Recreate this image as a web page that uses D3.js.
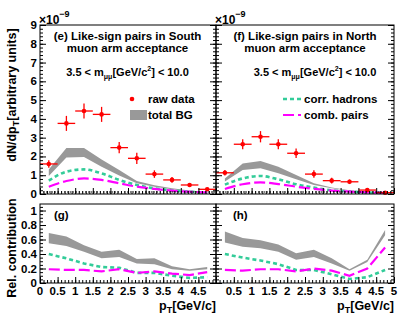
<!DOCTYPE html>
<html>
<head>
<meta charset="utf-8">
<script src="https://cdn.jsdelivr.net/npm/d3@7"></script>
<style>
  body { margin: 0; background: #fff; }
  text { font-family: "Liberation Sans", Arial, sans-serif; font-weight: bold; fill: #000; }
</style>
</head>
<body>
<div id="chart"></div>
<script>
// pT bin centres (GeV/c), bins are 0.5 wide
var ptBins = [0.25, 0.75, 1.25, 1.75, 2.25, 2.75, 3.25, 3.75, 4.25, 4.75];
var binWidth = 0.5;

// (e) South arm, dN/dpT in units of 1e-9
var southRaw    = [1.6, 3.76, 4.42, 4.24, 2.47, 1.9, 1.06, 0.75, 0.48, 0.25];
var southRawErr = [0.2, 0.4, 0.4, 0.4, 0.3, 0.3, 0.2, 0.15, 0.1, 0.08];
var southBgLow  = [0.96, 1.95, 1.97, 1.45, 0.98, 0.57, 0.39, 0.25, 0.14, 0.08];
var southBgHigh = [1.3, 2.45, 2.45, 1.84, 1.28, 0.69, 0.46, 0.3, 0.18, 0.1];
var southCorr   = [0.71, 1.19, 1.31, 1.1, 0.75, 0.48, 0.3, 0.19, 0.12, 0.07];
var southComb   = [0.39, 0.69, 0.83, 0.75, 0.57, 0.39, 0.27, 0.18, 0.12, 0.08];

// (f) North arm
var northRaw    = [1.13, 2.65, 3.05, 2.65, 2.17, 1.06, 0.71, 0.65, 0.21, 0.07];
var northRawErr = [0.15, 0.27, 0.3, 0.27, 0.25, 0.2, 0.15, 0.12, 0.1, 0.05];
var northBgLow  = [0.66, 1.28, 1.37, 1.1, 0.78, 0.48, 0.3, 0.17, 0.1, 0.06];
var northBgHigh = [0.83, 1.63, 1.76, 1.45, 1.01, 0.57, 0.35, 0.2, 0.12, 0.08];
var northCorr   = [0.5, 0.83, 0.96, 0.78, 0.52, 0.34, 0.2, 0.13, 0.08, 0.05];
var northComb   = [0.27, 0.52, 0.62, 0.53, 0.39, 0.27, 0.18, 0.13, 0.09, 0.06];

// (g) relative contributions, South
var relSouthBgLow  = [0.55, 0.51, 0.43, 0.34, 0.36, 0.27, 0.26, 0.19, 0.17, 0.19];
var relSouthBgHigh = [0.69, 0.64, 0.52, 0.43, 0.46, 0.33, 0.34, 0.23, 0.19, 0.22];
var relSouthCorr   = [0.40, 0.34, 0.27, 0.22, 0.21, 0.14, 0.14, 0.10, 0.07, 0.08];
var relSouthComb   = [0.19, 0.18, 0.18, 0.16, 0.19, 0.14, 0.16, 0.13, 0.11, 0.15];

// (h) relative contributions, North
var relNorthBgLow  = [0.56, 0.5, 0.48, 0.43, 0.32, 0.36, 0.27, 0.17, 0.29, 0.66];
var relNorthBgHigh = [0.71, 0.62, 0.59, 0.53, 0.41, 0.46, 0.34, 0.19, 0.32, 0.73];
var relNorthCorr   = [0.40, 0.35, 0.31, 0.26, 0.18, 0.18, 0.12, 0.055, 0.08, 0.18];
var relNorthComb   = [0.18, 0.17, 0.19, 0.19, 0.16, 0.2, 0.17, 0.1, 0.2, 0.49];

var topTicks = [0, 1, 2, 3, 4, 5, 6, 7, 8, 9];
var relTicks = [0, 0.2, 0.4, 0.6, 0.8, 1];
var ptTicksLeft  = [0, 0.5, 1, 1.5, 2, 2.5, 3, 3.5, 4, 4.5];
var ptTicksRight = [0.5, 1, 1.5, 2, 2.5, 3, 3.5, 4, 4.5, 5];

var svg = d3.select("#chart")
  .append("svg")
    .attr("width", 399)
    .attr("height", 318);

var gray = "#999999", teal = "#33cc99", magenta = "#ff00ff", red = "#ff0000";

function drawPanel(p) {
  var x = d3.scaleLinear().domain([0, 5]).range(p.xr);
  var y = d3.scaleLinear().domain(p.yd).range(p.yr);
  var g = svg.append("g");
  var idx = d3.range(ptBins.length);

  // background band
  g.append("path")
    .datum(idx)
    .attr("d", d3.area()
      .x(function(i) { return x(ptBins[i]); })
      .y0(function(i) { return y(p.bgLow[i]); })
      .y1(function(i) { return y(p.bgHigh[i]); }))
    .style("fill", gray);

  var curve = p.smooth ? d3.curveMonotoneX : d3.curveLinear;
  g.append("path")
    .datum(idx)
    .attr("d", d3.line().curve(curve)
      .x(function(i) { return x(ptBins[i]); })
      .y(function(i) { return y(p.corr[i]); }))
    .style("fill", "none").style("stroke", teal)
    .style("stroke-width", 2.6).style("stroke-dasharray", "4,3");
  g.append("path")
    .datum(idx)
    .attr("d", d3.line().curve(curve)
      .x(function(i) { return x(ptBins[i]); })
      .y(function(i) { return y(p.comb[i]); }))
    .style("fill", "none").style("stroke", magenta)
    .style("stroke-width", 2.2).style("stroke-dasharray", "11,4");

  // raw data points
  if (p.raw) {
    var pts = g.selectAll(".pt").data(idx).enter().append("g");
    pts.append("line")
      .attr("x1", function(i) { return x(ptBins[i] - binWidth / 2); })
      .attr("x2", function(i) { return x(ptBins[i] + binWidth / 2); })
      .attr("y1", function(i) { return y(p.raw[i]); })
      .attr("y2", function(i) { return y(p.raw[i]); })
      .style("stroke", red).style("stroke-width", 1.3);
    pts.append("line")
      .attr("x1", function(i) { return x(ptBins[i]); })
      .attr("x2", function(i) { return x(ptBins[i]); })
      .attr("y1", function(i) { return y(p.raw[i] - p.rawErr[i]); })
      .attr("y2", function(i) { return y(p.raw[i] + p.rawErr[i]); })
      .style("stroke", red).style("stroke-width", 1.3);
    pts.append("circle")
      .attr("cx", function(i) { return x(ptBins[i]); })
      .attr("cy", function(i) { return y(p.raw[i]); })
      .attr("r", 2.3)
      .style("fill", red);
  }

  // ticks, pointing inwards like ROOT
  var minorX = d3.range(0, 5.001, 0.1);
  var majorX = d3.range(0, 5.001, 0.5);
  var minorY = d3.range(p.yd[0], p.yd[1] + 1e-6, p.minorStep);
  var majorY = p.yTicks;
  function tickG(axis, tx, ty) {
    var a = g.append("g").attr("transform", "translate(" + tx + "," + ty + ")").call(axis);
    a.select(".domain").remove();
    a.selectAll("text").remove();
    a.selectAll("line").style("stroke", "#000");
  }
  tickG(d3.axisBottom(x).tickValues(minorX).tickSize(-3), 0, p.yr[0]);
  tickG(d3.axisBottom(x).tickValues(majorX).tickSize(-6), 0, p.yr[0]);
  tickG(d3.axisLeft(y).tickValues(minorY).tickSize(-3), p.xr[0], 0);
  tickG(d3.axisLeft(y).tickValues(majorY).tickSize(-6), p.xr[0], 0);
  tickG(d3.axisRight(y).tickValues(minorY).tickSize(-3), p.xr[1], 0);
  tickG(d3.axisRight(y).tickValues(majorY).tickSize(-6), p.xr[1], 0);

  if (p.zeroDots) {
    g.append("line")
      .attr("x1", p.xr[0]).attr("x2", p.xr[1])
      .attr("y1", y(0) - 2).attr("y2", y(0) - 2)
      .style("stroke", "#000").style("stroke-dasharray", "1,2");
  }

  g.append("rect")
    .attr("x", p.xr[0]).attr("y", p.yr[1])
    .attr("width", p.xr[1] - p.xr[0]).attr("height", p.yr[0] - p.yr[1])
    .style("fill", "none").style("stroke", "#000").style("stroke-width", 1);

  if (p.yLabels) {
    g.selectAll(".yl").data(p.yTicks).enter().append("text")
      .attr("x", p.xr[0] - 3)
      .attr("y", function(d) { return y(d) + 4; })
      .attr("text-anchor", "end")
      .style("font-size", "11.5px")
      .text(function(d) { return d; });
  }
  if (p.xLabels) {
    g.selectAll(".xl").data(p.xLabels).enter().append("text")
      .attr("x", function(d) { return x(d); })
      .attr("y", p.yr[0] + 12)
      .attr("text-anchor", "middle")
      .style("font-size", "11.5px")
      .text(function(d) { return d; });
  }
  return g;
}

var xLeft = [40, 216], xRight = [216, 394];
var yTopR = [194, 25], yBotR = [283, 204];

drawPanel({ xr: xLeft, yr: yTopR, yd: [0, 9], yTicks: topTicks, minorStep: 0.2, smooth: true,
  raw: southRaw, rawErr: southRawErr, bgLow: southBgLow, bgHigh: southBgHigh,
  corr: southCorr, comb: southComb, yLabels: true, zeroDots: true });
drawPanel({ xr: xRight, yr: yTopR, yd: [0, 9], yTicks: topTicks, minorStep: 0.2, smooth: true,
  raw: northRaw, rawErr: northRawErr, bgLow: northBgLow, bgHigh: northBgHigh,
  corr: northCorr, comb: northComb, zeroDots: true });
drawPanel({ xr: xLeft, yr: yBotR, yd: [0, 1.09], yTicks: relTicks, minorStep: 0.05,
  bgLow: relSouthBgLow, bgHigh: relSouthBgHigh, corr: relSouthCorr, comb: relSouthComb,
  yLabels: true, xLabels: ptTicksLeft });
drawPanel({ xr: xRight, yr: yBotR, yd: [0, 1.09], yTicks: relTicks, minorStep: 0.05,
  bgLow: relNorthBgLow, bgHigh: relNorthBgHigh, corr: relNorthCorr, comb: relNorthComb,
  xLabels: ptTicksRight });

// exponent labels
[xLeft[0], xRight[0]].forEach(function(x0) {
  var t = svg.append("text").attr("x", x0 - 1).attr("y", 24).style("font-size", "12px");
  t.append("tspan").text("\u00d710");
  t.append("tspan").attr("dy", -7).style("font-size", "9px").text("\u22129");
});

// panel titles
function title(lines, cx) {
  lines.forEach(function(l) {
    svg.append("text").attr("x", l.x).attr("y", l.y)
      .attr("text-anchor", "middle").style("font-size", "11.5px").text(l.t);
  });
}
title([{ t: "(e) Like-sign pairs in South", x: 127.5, y: 40 },
       { t: "muon arm acceptance", x: 127.5, y: 52 }]);
title([{ t: "(f) Like-sign pairs in North", x: 305, y: 40 },
       { t: "muon arm acceptance", x: 305, y: 52 }]);

function massLine(cx) {
  var t = svg.append("text").attr("x", cx).attr("y", 76)
    .attr("text-anchor", "middle").style("font-size", "11px");
  t.append("tspan").text("3.5 < m");
  t.append("tspan").attr("dy", 3).style("font-size", "7px").text("\u03bc\u03bc");
  t.append("tspan").attr("dy", -3).text("[GeV/c");
  t.append("tspan").attr("dy", -5).style("font-size", "7px").text("2");
  t.append("tspan").attr("dy", 5).text("] < 10.0");
}
massLine(127.5);
massLine(315);

// sub-panel tags
svg.append("text").attr("x", 54).attr("y", 219).style("font-size", "11.5px").text("(g)");
svg.append("text").attr("x", 233).attr("y", 219).style("font-size", "11.5px").text("(h)");

// legends
svg.append("circle").attr("cx", 132).attr("cy", 99).attr("r", 2.3).style("fill", red);
svg.append("text").attr("x", 148).attr("y", 103).style("font-size", "11.5px").text("raw data");
svg.append("rect").attr("x", 130).attr("y", 110).attr("width", 17).attr("height", 10).style("fill", gray);
svg.append("text").attr("x", 148).attr("y", 119).style("font-size", "11.5px").text("total BG");

svg.append("line").attr("x1", 283).attr("x2", 301).attr("y1", 99).attr("y2", 99)
  .style("stroke", teal).style("stroke-width", 2.6).style("stroke-dasharray", "4,3");
svg.append("text").attr("x", 304).attr("y", 103).style("font-size", "11.5px").text("corr. hadrons");
svg.append("line").attr("x1", 283).attr("x2", 301).attr("y1", 115).attr("y2", 115)
  .style("stroke", magenta).style("stroke-width", 2.2).style("stroke-dasharray", "11,4");
svg.append("text").attr("x", 304).attr("y", 119).style("font-size", "11.5px").text("comb. pairs");

// axis titles
var yt1 = svg.append("text").attr("transform", "translate(16,95) rotate(-90)")
  .attr("text-anchor", "middle").style("font-size", "12.5px");
yt1.append("tspan").text("dN/dp");
yt1.append("tspan").attr("dy", 3).style("font-size", "9px").text("T");
yt1.append("tspan").attr("dy", -3).text("[arbitrary units]");

svg.append("text").attr("transform", "translate(16,248) rotate(-90)")
  .attr("text-anchor", "middle").style("font-size", "12.5px").text("Rel. contribution");

[xLeft[1], xRight[1]].forEach(function(xr) {
  var t = svg.append("text").attr("x", xr).attr("y", 310)
    .attr("text-anchor", "end").style("font-size", "12.5px");
  t.append("tspan").text("p");
  t.append("tspan").attr("dy", 3).style("font-size", "9px").text("T");
  t.append("tspan").attr("dy", -3).text("[GeV/c]");
});
</script>
</body>
</html>
